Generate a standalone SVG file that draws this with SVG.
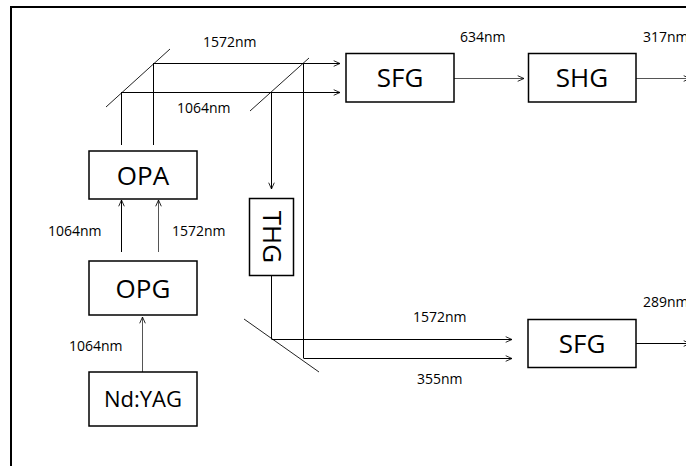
<svg xmlns="http://www.w3.org/2000/svg" width="686" height="466" viewBox="0 0 686 466">
<defs>
<style>
.box{fill:#fff;stroke:#000;stroke-width:1.5}
.big{font-family:"Open Sans","Liberation Sans",sans-serif;font-size:26px;fill:#000;text-anchor:middle}
.lbl{font-family:"Open Sans","Liberation Sans",sans-serif;font-size:14px;fill:#000}
.ln{fill:none;stroke:#000;stroke-width:1}
.gr{fill:none;stroke:#555;stroke-width:1}
.mr{fill:none;stroke:#222;stroke-width:1}
</style>
<marker id="ah" viewBox="0 0 10 10" refX="10" refY="5" markerWidth="7" markerHeight="7" markerUnits="userSpaceOnUse" orient="auto">
<path d="M1,1 L10,5 L1,9" fill="none" stroke="#000" stroke-width="1.2"/>
</marker>
</defs>
<rect width="686" height="466" fill="#fff"/>
<path d="M11,466 V7 H686" fill="none" stroke="#000" stroke-width="2"/>

<g id="connectors">
<line class="mr" x1="106" y1="107" x2="170" y2="49"/>
<line class="mr" x1="250" y1="111" x2="309" y2="58"/>
<line class="mr" x1="244" y1="319" x2="319" y2="372"/>
<line class="ln" x1="121.5" y1="145" x2="121.5" y2="92"/>
<line class="ln" x1="153.5" y1="145" x2="153.5" y2="63"/>
<line class="ln" x1="153.5" y1="63.5" x2="340" y2="63.5" marker-end="url(#ah)"/>
<line class="ln" x1="121.5" y1="92.5" x2="340" y2="92.5" marker-end="url(#ah)"/>
<line class="ln" x1="303.5" y1="63" x2="303.5" y2="358"/>
<line class="ln" x1="271.5" y1="92" x2="271.5" y2="189" marker-end="url(#ah)"/>
<line class="ln" x1="271.5" y1="276" x2="271.5" y2="339"/>
<line class="ln" x1="271.5" y1="339.5" x2="512" y2="339.5" marker-end="url(#ah)"/>
<line class="ln" x1="303.5" y1="358.5" x2="512" y2="358.5" marker-end="url(#ah)"/>
<line class="ln" x1="121.5" y1="252" x2="121.5" y2="200" marker-end="url(#ah)"/>
<line class="gr" x1="158.5" y1="252" x2="158.5" y2="200" marker-end="url(#ah)"/>
<line class="gr" x1="142.5" y1="372" x2="142.5" y2="317" marker-end="url(#ah)"/>
<line class="gr" x1="454" y1="78.5" x2="524" y2="78.5" marker-end="url(#ah)"/>
<line class="gr" x1="636" y1="78.5" x2="690" y2="78.5" marker-end="url(#ah)"/>
<line class="ln" x1="636" y1="343.5" x2="690" y2="343.5" marker-end="url(#ah)"/>
</g>

<g id="labels">
<text class="lbl" x="203" y="47">1572nm</text>
<text class="lbl" x="177" y="113">1064nm</text>
<text class="lbl" x="460" y="42">634nm</text>
<text class="lbl" x="643" y="42">317nm</text>
<text class="lbl" x="48" y="236">1064nm</text>
<text class="lbl" x="172" y="236">1572nm</text>
<text class="lbl" x="69" y="351">1064nm</text>
<text class="lbl" x="413" y="322">1572nm</text>
<text class="lbl" x="417" y="384">355nm</text>
<text class="lbl" x="643" y="307">289nm</text>
</g>

<g id="opa"><rect class="box" x="89" y="151" width="108" height="48"/><text class="big" x="143" y="185">OPA</text></g>
<g id="opg"><rect class="box" x="89" y="261" width="108" height="54"/><text class="big" x="143" y="298">OPG</text></g>
<g id="ndyag"><rect class="box" x="89" y="372" width="108" height="54"/><text class="big" x="143" y="407" style="font-size:22px">Nd:YAG</text></g>
<g id="thg"><rect class="box" x="249.5" y="198.5" width="44" height="77"/><text class="big" transform="translate(271.5,237) rotate(90)" x="0" y="9">THG</text></g>
<g id="sfg1"><rect class="box" x="346" y="53.5" width="108" height="48.5"/><text class="big" x="400" y="87">SFG</text></g>
<g id="shg"><rect class="box" x="528.5" y="53.5" width="107.5" height="48.5"/><text class="big" x="582" y="87">SHG</text></g>
<g id="sfg2"><rect class="box" x="528" y="319.5" width="108" height="48"/><text class="big" x="582" y="353">SFG</text></g>
</svg>
